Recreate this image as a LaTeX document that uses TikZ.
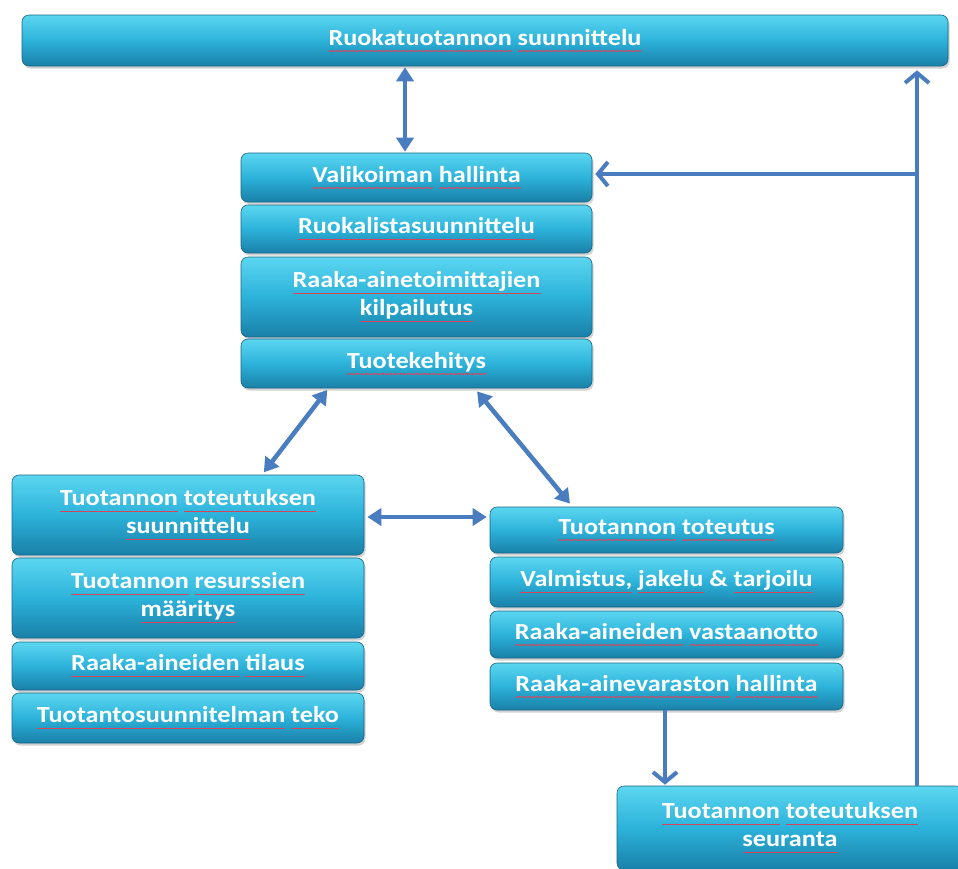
\documentclass[tikz,border=0pt]{standalone}
\usepackage{fontspec}
\setmainfont{Carlito}[FakeStretch=1.14]
\usetikzlibrary{arrows.meta,shadows,calc}
\definecolor{arrowblue}{RGB}{74,124,192}
\definecolor{sqred}{RGB}{214,70,90}
\definecolor{boxtop}{RGB}{92,214,240}
\definecolor{boxmid}{RGB}{44,178,218}
\definecolor{boxbot}{RGB}{26,128,168}
\newcommand\sqwavebit{\rule[-6.3pt]{0.8pt}{0.8pt}\rule[-5.7pt]{0.8pt}{0.8pt}}
\newcommand\sq[1]{\setbox0\hbox{#1}\leavevmode\rlap{\textcolor{sqred}{\hbox to\wd0{\xleaders\hbox{\sqwavebit}\hfil}}}\box0\relax}
\begin{document}
\begin{tikzpicture}[x=1pt,y=-1pt,
  procbox/.style={rectangle, rounded corners=7pt, inner sep=0pt,
    top color=boxtop, bottom color=boxbot, middle color=boxmid,
    draw=boxbot!80!black, line width=0.6pt,
    drop shadow={shadow xshift=1.5pt,shadow yshift=-2.5pt,opacity=0.35},
    text=white, align=center, font=\bfseries\fontsize{23}{28}\selectfont},
  dbl/.style={draw=arrowblue, line width=4.5pt,
    {Triangle[width=17pt,length=14pt]}-{Triangle[width=17pt,length=14pt]}},
  sgl/.style={draw=arrowblue, line width=4pt,
    -{Straight Barb[width=24pt,length=10pt]}}]
\useasboundingbox (0,0) rectangle (958,868);
\fill[white] (0,0) rectangle (958,868);

\node[procbox, minimum width=926pt, minimum height=51pt] (top) at (485,40.5)
  {\sq{Ruokatuotannon} \sq{suunnittelu}};

\node[procbox, minimum width=351pt, minimum height=49pt] (M1) at (416.5,177.5)
  {\sq{Valikoiman} \sq{hallinta}};
\node[procbox, minimum width=351pt, minimum height=48pt] (M2) at (416.5,229)
  {\sq{Ruokalistasuunnittelu}};
\node[procbox, minimum width=351pt, minimum height=80pt] (M3) at (416.5,297)
  {\sq{Raaka-ainetoimittajien}\\\sq{kilpailutus}};
\node[procbox, minimum width=351pt, minimum height=49pt] (M4) at (416.5,363.5)
  {\sq{Tuotekehitys}};

\node[procbox, minimum width=352pt, minimum height=80pt] (L1) at (188,515)
  {\sq{Tuotannon} \sq{toteutuksen}\\\sq{suunnittelu}};
\node[procbox, minimum width=352pt, minimum height=80pt] (L2) at (188,598)
  {\sq{Tuotannon} \sq{resurssien}\\\sq{määritys}};
\node[procbox, minimum width=352pt, minimum height=48pt] (L3) at (188,666)
  {\sq{Raaka-aineiden} \sq{tilaus}};
\node[procbox, minimum width=352pt, minimum height=50pt] (L4) at (188,718)
  {\sq{Tuotantosuunnitelman} \sq{teko}};

\node[procbox, minimum width=353pt, minimum height=46pt] (R1) at (666.5,530)
  {\sq{Tuotannon} \sq{toteutus}};
\node[procbox, minimum width=353pt, minimum height=50pt] (R2) at (666.5,582)
  {\sq{Valmistus,} \sq{jakelu} \& \sq{tarjoilu}};
\node[procbox, minimum width=353pt, minimum height=47pt] (R3) at (666.5,634.5)
  {\sq{Raaka-aineiden} \sq{vastaanotto}};
\node[procbox, minimum width=353pt, minimum height=47pt] (R4) at (666.5,686.5)
  {\sq{Raaka-ainevaraston} \sq{hallinta}};

\node[procbox, minimum width=346pt, minimum height=84pt] (S) at (790,828)
  {\sq{Tuotannon} \sq{toteutuksen}\\\sq{seuranta}};

% connectors
\draw[dbl, shorten <=1pt, shorten >=1pt] ([xshift=-11.5pt]M1.north) -- ([xshift=-11.5pt]M1.north |- top.south);
\draw[dbl, shorten <=2pt, shorten >=3pt] ([xshift=-88pt]M4.south) -- ([xshift=74pt]L1.north);
\draw[dbl, shorten <=4pt, shorten >=4pt] ([xshift=58pt]M4.south) -- ([xshift=-94pt]R1.north);
\draw[dbl, shorten <=3pt, shorten >=3pt] ([yshift=-2pt]L1.east) -- ([yshift=-2pt]L1.east -| R1.west);
\draw[sgl, shorten >=1pt] ([xshift=-1.5pt]R4.south) -- ([xshift=-1.5pt]R4.south |- S.north);
\coordinate (jn) at ([xshift=127pt,yshift=3.5pt]S.north |- M1.east);
\draw[sgl, shorten >=4pt] ([xshift=127pt]S.north) -- ([xshift=127pt]S.north |- top.south);
\draw[sgl, shorten >=3pt] (jn) -- (jn -| M1.east);
\end{tikzpicture}
\end{document}
